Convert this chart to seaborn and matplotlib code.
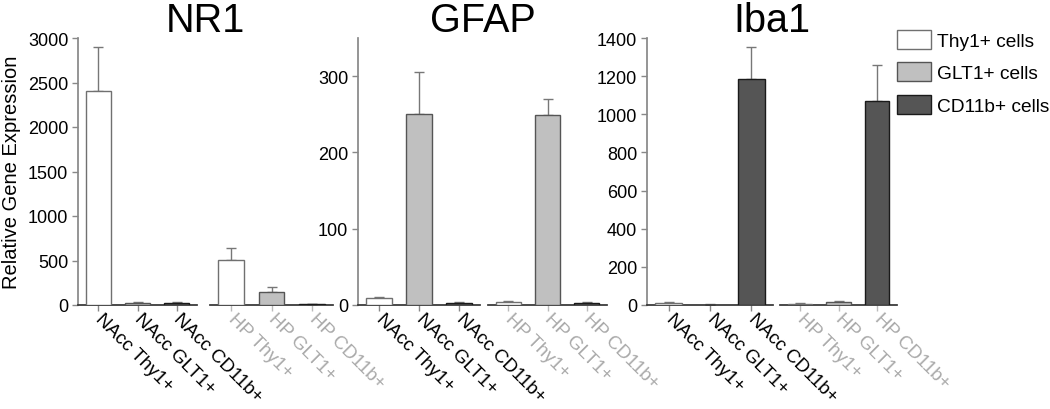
import seaborn as sns
import matplotlib.pyplot as plt
import pandas as pd
from matplotlib.patches import Patch

# === DATA ===
genes = ["NR1", "GFAP", "Iba1"]
cells = ["Thy1+", "GLT1+", "CD11b+"]
nacc_labels = ["NAcc Thy1+", "NAcc GLT1+", "NAcc CD11b+"]
hp_labels = ["HP Thy1+", "HP GLT1+", "HP CD11b+"]
legend_labels = ["Thy1+ cells", "GLT1+ cells", "CD11b+ cells"]

nr1_nacc = [2400, 20, 25]
nr1_nacc_err = [495, 10, 10]
nr1_hp = [505, 150, 10]
nr1_hp_err = [130, 50, 5]

gfap_nacc = [9, 251, 3]
gfap_nacc_err = [1.5, 55, 1.5]
gfap_hp = [4, 249, 3]
gfap_hp_err = [1.5, 21, 1]

iba1_nacc = [10, 2, 1186]
iba1_nacc_err = [5, 1, 167]
iba1_hp = [6, 15, 1072]
iba1_hp_err = [3, 5, 189]

y_max = [3000, 350, 1400]
y_ticks = [range(0, 3001, 500), range(0, 301, 100), range(0, 1401, 200)]

palette = {"Thy1+": "#ffffff", "GLT1+": "#c0c0c0", "CD11b+": "#555555"}
edges = {"Thy1+": "#707070", "GLT1+": "#555555", "CD11b+": "#1a1a1a"}

# === STYLE ===
sns.set_theme(style="ticks")
plt.rcParams["font.family"] = ["Liberation Sans", "DejaVu Sans"]
plt.rcParams["text.color"] = "black"
plt.rcParams["axes.labelcolor"] = "black"
plt.rcParams["axes.edgecolor"] = "#333333"
plt.rcParams["xtick.color"] = "#888888"
plt.rcParams["ytick.color"] = "#888888"
plt.rcParams["xtick.labelcolor"] = "black"
plt.rcParams["ytick.labelcolor"] = "black"

W, H = 1050, 410
fig = plt.figure(figsize=(W / 100, H / 100), dpi=100)

# pixel layout of each panel: (nacc_left, nacc_right, hp_left, hp_right)
panels_px = [(78, 197, 210, 333), (358, 480, 488, 607), (647, 773, 780, 897)]
top_px, bot_px = 39, 306

series = [
    (nr1_nacc, nr1_nacc_err, nr1_hp, nr1_hp_err),
    (gfap_nacc, gfap_nacc_err, gfap_hp, gfap_hp_err),
    (iba1_nacc, iba1_nacc_err, iba1_hp, iba1_hp_err),
]


def draw_group(ax, labels, vals, errs, label_color, tick_color):
    df = pd.DataFrame({"label": labels, "value": vals, "cell": cells})
    sns.barplot(data=df, x="label", y="value", hue="cell", palette=palette,
                dodge=False, width=0.63, linewidth=1.0, legend=False,
                order=labels, hue_order=cells, ax=ax, zorder=3)
    for bar in ax.patches:
        fc = bar.get_facecolor()
        for c, col in palette.items():
            if abs(fc[0] - int(col[1:3], 16) / 255) < 0.01:
                bar.set_edgecolor(edges[c])
    ax.errorbar(range(len(vals)), vals, yerr=[[0] * len(vals), errs],
                fmt="none", ecolor="#777777", elinewidth=1.0,
                capsize=3.5, capthick=1.0, zorder=2)
    ax.set_xlim(-0.52, 2.52)
    ax.set_xlabel("")
    ax.set_ylabel("")
    ax.tick_params(axis="x", length=4, width=1, color=tick_color,
                   labelsize=13.5, labelcolor=label_color, pad=4)
    for t in ax.get_xticklabels():
        t.set_rotation(-45)
        t.set_ha("left")
        t.set_va("center")
        t.set_rotation_mode("anchor")
    sns.despine(ax=ax)


for i, gene in enumerate(genes):
    nl, nr, hl, hr = panels_px[i]
    nacc_vals, nacc_err, hp_vals, hp_err = series[i]
    ax1 = fig.add_axes([nl / W, 1 - bot_px / H, (nr - nl) / W, (bot_px - top_px) / H])
    ax2 = fig.add_axes([hl / W, 1 - bot_px / H, (hr - hl) / W, (bot_px - top_px) / H],
                       sharey=ax1)
    draw_group(ax1, nacc_labels, nacc_vals, nacc_err, "black", "#888888")
    draw_group(ax2, hp_labels, hp_vals, hp_err, "#aaaaaa", "#bbbbbb")
    ax1.set_ylim(0, y_max[i])
    ax1.set_yticks(list(y_ticks[i]))
    ax1.tick_params(axis="y", length=4, width=1, labelsize=13, pad=3)
    ax1.spines["left"].set_color("#888888")
    ax2.spines["left"].set_visible(False)
    ax2.tick_params(axis="y", left=False, labelleft=False)
    if i == 0:
        ax1.set_ylabel("Relative Gene Expression", fontsize=14.5, labelpad=5)
    fig.text((nl + hr) / 2 / W, 1 - 32 / H, gene, fontsize=28.5,
             ha="center", va="baseline")

handles = [Patch(facecolor=palette[c], edgecolor=edges[c], linewidth=1.0) for c in cells]
fig.legend(handles, legend_labels, loc="upper left",
           bbox_to_anchor=(897 / W, 1 - 31 / H), frameon=False, fontsize=13.75,
           handlelength=1.78, handleheight=1.15, handletextpad=0.3,
           labelspacing=0.65, borderpad=0, borderaxespad=0)

fig.savefig("out.png", dpi=100)
